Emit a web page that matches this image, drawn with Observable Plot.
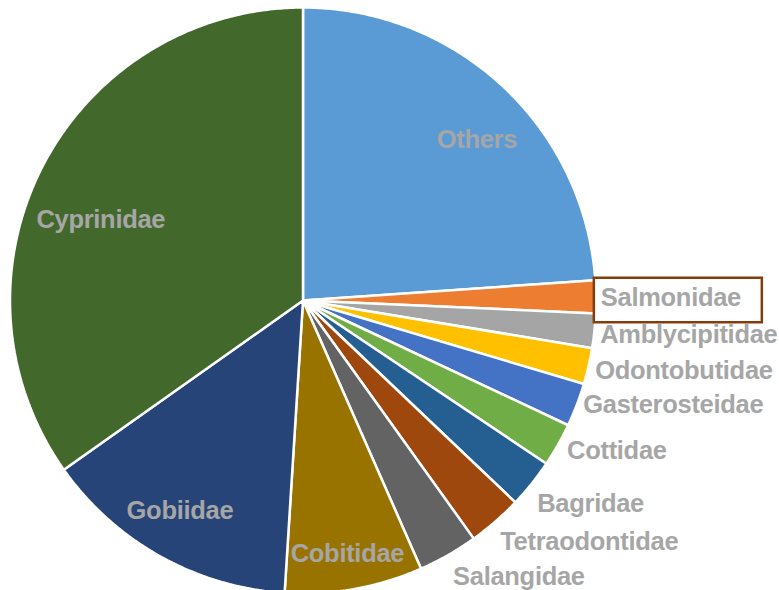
<!DOCTYPE html>
<html><head><meta charset="utf-8">
<script src="https://cdn.jsdelivr.net/npm/d3@7"></script>
<script src="https://cdn.jsdelivr.net/npm/@observablehq/plot@0.6"></script>
<style>html,body{margin:0;padding:0;background:#fff;overflow:hidden} text{letter-spacing:-0.3px}</style>
</head><body><div id="chart"></div>
<script>
// ---- data (share of species, %) ----
const families = ["Others","Salmonidae","Amblycipitidae","Odontobutidae","Gasterosteidae","Cottidae","Bagridae","Tetraodontidae","Salangidae","Cobitidae","Gobiidae","Cyprinidae"];
const shares   = [23.9, 1.8, 1.9, 2.0, 2.4, 2.4, 2.7, 3.0, 3.3, 7.6, 14.2, 34.8];
const colors   = ["#5B9BD5","#ED7D31","#A5A5A5","#FFC000","#4472C4","#70AD47","#255E91","#9E480E","#636363","#997300","#264478","#43682B"];
const highlighted = "Salmonidae";

// ---- layout ----
const W = 779, H = 590, CX = 302.5, CY = 300, R = 293;
const insideLabel = [true,false,false,false,false,false,false,false,false,true,true,true];
const labelNudge = [[24,0],[-1,1],[0,3],[1,3],[1,-2],[4,3],[1,16],[1,16],[2,17],[6,37],[-16,18],[-7,20]];
const labelFont = {fontFamily:"Liberation Sans, Arial, sans-serif", fontSize:25.5, fontWeight:"bold", fill:"#A6A6A6"};

const arcs = d3.pie().sort(null).startAngle(0).endAngle(2*Math.PI)(shares);
const slicePts = [];
arcs.forEach((a,i) => {
  const name = families[i];
  slicePts.push({name, x:0, y:0});
  const n = Math.max(2, Math.ceil((a.endAngle - a.startAngle) / (Math.PI/360)));
  for (let k = 0; k <= n; k++) {
    const t = a.startAngle + (a.endAngle - a.startAngle) * k / n;
    slicePts.push({name, x:Math.sin(t), y:Math.cos(t)});
  }
});
const labels = arcs.map((a,i) => {
  const m = (a.startAngle + a.endAngle) / 2;
  const r = insideLabel[i] ? 0.75 : 1.02;
  return {name:families[i], x:r*Math.sin(m), y:r*Math.cos(m), inside:insideLabel[i], dx:labelNudge[i][0], dy:labelNudge[i][1]};
});

const textMarks = labels.map(l => Plot.text([l], {
  x:"x", y:"y", text:"name", textAnchor: l.inside ? "middle" : "start",
  dx:l.dx, dy:l.dy, ...labelFont
}));
const hl = labels.filter(l => l.name === highlighted);
const boxMark = Plot.rect(hl, {
  x1:"x", x2:"x", y1:"y", y2:"y", dx:hl[0].dx, dy:hl[0].dy,
  insetLeft:-6.5, insetRight:-161.5, insetTop:-19.5, insetBottom:-25,
  fill:"none", stroke:"#843C0C", strokeWidth:2.5
});

const chart = Plot.plot({
  width: W, height: H,
  marginTop:0, marginRight:0, marginBottom:0, marginLeft:0,
  x: {domain:[-CX/R, (W-CX)/R], axis:null},
  y: {domain:[-(H-CY)/R, CY/R], axis:null},
  color: {domain: families, range: colors},
  style: {background:"#fff"},
  marks: [
    Plot.line(slicePts, {x:"x", y:"y", z:"name", fill:"name", stroke:"white", strokeWidth:2.5, strokeLinejoin:"miter", curve:"linear-closed"}),
    ...textMarks,
    boxMark
  ]
});
document.getElementById("chart").appendChild(chart);
</script>
</body></html>
